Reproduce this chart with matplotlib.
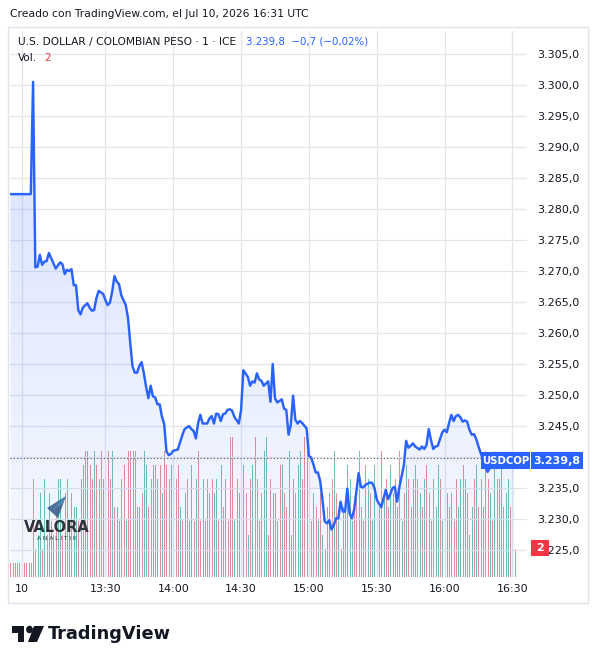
import matplotlib
matplotlib.use("Agg")
import matplotlib.pyplot as plt
import numpy as np
from matplotlib.patches import Rectangle, Polygon, Circle

# ---------------- data ----------------
start_label = "12:48"          # minute index 0
price_idx = [0, 9, 10, 11, 12, 13, 14, 15, 16, 17, 18, 20, 22, 23, 24, 25, 26, 27, 28, 29,
             30, 31, 32, 34, 35, 36, 37, 38, 39, 41, 42, 43, 44, 45, 46, 47, 48, 49, 51, 52,
             53, 54, 55, 56, 57, 58, 59, 60, 61, 62, 63, 64, 65, 66, 67, 68, 69, 70, 71, 72,
             74, 76, 77, 79, 80, 81, 82, 83, 84, 85, 87, 88, 89, 90, 91, 92, 93, 94, 95, 96,
             97, 98, 99, 101, 102, 103, 105, 106, 107, 108, 109, 110, 111, 112, 114, 115, 116, 117, 118, 120,
             121, 122, 123, 124, 125, 126, 127, 128, 129, 131, 132, 133, 134, 135, 136, 137, 138, 139, 140, 141,
             142, 143, 144, 145, 146, 147, 148, 149, 150, 151, 152, 153, 154, 155, 156, 157, 159, 160, 161, 162,
             164, 166, 167, 168, 169, 170, 171, 172, 174, 175, 176, 177, 178, 179, 181, 182, 183, 184, 185, 186,
             187, 188, 189, 190, 191, 192, 193, 194, 195, 196, 197, 198, 199, 200, 201, 202, 203, 204, 205, 206,
             207, 208, 209, 211, 213, 215, 217, 219, 221, 223]
price_val = [3282.4, 3282.4, 3300.5, 3270.6, 3270.7, 3272.6, 3271.0, 3271.5, 3271.6, 3272.9, 3272.1, 3270.4, 3271.4, 3271.1, 3269.5, 3270.2, 3270.0, 3270.3, 3267.7, 3267.7,
             3263.7, 3263.0, 3264.1, 3264.8, 3264.1, 3263.6, 3263.7, 3265.6, 3266.8, 3266.3, 3265.3, 3264.5, 3264.9, 3266.7, 3269.2, 3268.3, 3267.9, 3266.1, 3264.5, 3262.4,
             3258.3, 3254.6, 3253.6, 3253.6, 3254.7, 3255.3, 3253.5, 3251.3, 3249.5, 3251.5, 3249.8, 3249.6, 3248.5, 3248.5, 3246.5, 3245.3, 3240.9, 3240.3, 3240.5, 3241.0,
             3241.2, 3243.5, 3244.5, 3245.0, 3244.5, 3244.2, 3243.0, 3245.5, 3246.8, 3245.4, 3245.4, 3246.2, 3246.6, 3245.4, 3247.0, 3246.9, 3245.8, 3246.9, 3247.0, 3247.6,
             3247.7, 3247.5, 3246.5, 3245.4, 3247.6, 3254.0, 3252.9, 3251.5, 3252.2, 3252.0, 3253.5, 3252.5, 3252.3, 3251.5, 3252.2, 3248.9, 3255.0, 3249.5, 3248.8, 3249.3,
             3247.8, 3247.6, 3243.6, 3245.2, 3249.9, 3246.0, 3245.4, 3245.8, 3245.5, 3244.6, 3240.2, 3239.9, 3238.8, 3237.5, 3237.5, 3236.1, 3233.1, 3229.6, 3229.3, 3229.8,
             3228.3, 3229.0, 3230.1, 3230.1, 3232.8, 3231.2, 3231.2, 3234.9, 3230.9, 3230.1, 3231.5, 3234.4, 3237.4, 3235.2, 3235.1, 3235.5, 3235.9, 3235.8, 3235.0, 3233.1,
             3231.9, 3234.7, 3233.2, 3234.0, 3235.0, 3235.2, 3232.8, 3235.1, 3238.7, 3242.6, 3241.5, 3241.8, 3242.2, 3241.7, 3241.2, 3241.7, 3241.3, 3241.9, 3244.5, 3242.7,
             3241.3, 3241.7, 3241.8, 3242.9, 3244.0, 3244.4, 3244.0, 3245.5, 3246.8, 3245.8, 3246.6, 3246.8, 3246.4, 3245.7, 3245.9, 3245.7, 3244.4, 3243.6, 3243.7, 3242.9,
             3241.7, 3240.6, 3239.5, 3237.6, 3238.8, 3238.2, 3239.4, 3238.9, 3239.6, 3239.8]

volume = [1, 1, 1, 1, 1, 1, 1, 1, 1, 1,
          7, 2, 3, 6, 2, 7, 3, 6, 4, 3,
          5, 7, 7, 3, 6, 7, 4, 6, 5, 5,
          4, 7, 8, 9, 9, 8, 7, 9, 8, 7,
          9, 7, 5, 9, 7, 9, 5, 5, 4, 7,
          8, 4, 9, 9, 9, 9, 5, 5, 6, 9,
          8, 5, 7, 8, 8, 7, 8, 6, 9, 8,
          7, 8, 8, 7, 8, 5, 4, 6, 7, 4,
          8, 4, 7, 9, 4, 7, 4, 7, 6, 7,
          6, 7, 4, 8, 5, 7, 4, 10, 10, 4,
          7, 6, 9, 8, 6, 3, 7, 8, 10, 7,
          4, 6, 9, 10, 3, 7, 6, 6, 4, 8,
          8, 6, 5, 9, 3, 7, 6, 8, 9, 7,
          10, 9, 5, 4, 6, 5, 4, 6, 3, 2,
          5, 6, 7, 9, 6, 4, 2, 5, 5, 8,
          7, 4, 5, 6, 9, 5, 4, 8, 7, 6,
          4, 8, 7, 5, 9, 6, 7, 5, 8, 6,
          7, 5, 9, 4, 6, 8, 7, 5, 7, 8,
          7, 6, 5, 7, 8, 6, 4, 7, 5, 8,
          7, 4, 7, 6, 5, 6, 4, 7, 5, 7,
          8, 7, 6, 3, 5, 7, 8, 5, 7, 5,
          9, 7, 6, 4, 9, 7, 7, 8, 5, 6,
          7, 5, 6, 2]
volume_dir = ("rrrrrrrrrr" "rrggrgrgrg" "rggrrrgrgg" "rgrrgrrgrr" "rgrrrgrggr"
              "rgrrrrggrg" "grrgrgrgrr" "rggrrgrgrg" "grgrrggrgr" "ggrgrgrrrg"
              "rgrgrgrgrr" "grggrrgrgr" "grrgrgrggr" "rrgrgrgrgg" "rgrgrgrgrg"
              "ggrrgrgrgr" "ggrgrgrrgg" "rgrgrgrrgg" "rgrgrrgrgg" "rgrgrgrrgg"
              "rgrrgrgrrg" "rrgrgrrgrg" "grrr")

tick_idx = [5, 42, 72, 102, 132, 162, 192, 222]
tick_lab = ["10", "13:30", "14:00", "14:30", "15:00", "15:30", "16:00", "16:30"]
price_ticks = list(range(3225, 3306, 5))
last_price = 3239.8
last_volume = 2

# ---------------- layout helpers ----------------
W, H = 598, 664
fig = plt.figure(figsize=(W / 100, H / 100), dpi=100)
fig.patch.set_facecolor("white")


def fx(px):
    return px / W


def fy(py):
    return 1 - py / H


def price_at(py):
    return 3305 - (py - 54) * 5 / 31.0


TXT = "#131722"
BLUE = "#2962ff"
RED = "#f23645"
GRID = "#e3e5eb"

PL, PR, PT, PB = 10, 527, 31, 577
ax = fig.add_axes([fx(PL), fy(PB), fx(PR) - fx(PL), fy(PT) - fy(PB)])
axv = ax.twinx()
ax.set_zorder(axv.get_zorder() + 1)
ax.patch.set_visible(False)

ppx = 2.261  # px per minute
xmin = -0.2
xmax = xmin + (PR - PL) / ppx
ybot, ytop = price_at(PB), price_at(PT)

# volume (1-px wide bars)
vk = np.arange(len(volume))
vcols = ["#ec8e93" if c == "r" else "#6fc2b3" for c in volume_dir]
axv.vlines(vk, 0, volume, colors=vcols, linewidth=0.72, antialiased=False)
axv.set_ylim(0, (PB - PT) / 14.0)
axv.set_xlim(xmin, xmax)
axv.set_axis_off()

# price line + gradient fill
kx = np.array(price_idx, dtype=float)
pv = np.array(price_val)
verts = [(kx[0], ybot)] + list(zip(kx, pv)) + [(kx[-1], ybot)]
poly = Polygon(verts, closed=True, facecolor="none", edgecolor="none")
ax.add_patch(poly)
n = 256
g = np.linspace(0, 1, n)
rgba = np.zeros((n, 1, 4))
rgba[..., 0] = 41 / 255
rgba[..., 1] = 98 / 255
rgba[..., 2] = 1.0
rgba[:, 0, 3] = 0.04 + (0.19 - 0.04) * g
im = ax.imshow(rgba, extent=[xmin, xmax, ybot, pv.max()], origin="lower",
               aspect="auto", zorder=1, interpolation="bilinear")
im.set_clip_path(poly)
ax.plot(kx, pv, color=BLUE, lw=1.75, zorder=3, solid_joinstyle="round")
ax.axhline(last_price, color="#50535e", lw=0.8, ls=(0, (1, 2)), zorder=2)

ax.set_xlim(xmin, xmax)
ax.set_ylim(ybot, ytop)
ax.set_xticks(tick_idx)
ax.set_xticklabels(tick_lab)
ax.set_yticks(price_ticks)
# the 3.240,0 label is hidden behind the last-price marker in the reference
ax.set_yticklabels(["" if p == 3240 else f"{p // 1000}.{p % 1000:03d},0" for p in price_ticks])
ax.yaxis.tick_right()
ax.tick_params(axis="y", length=0, pad=7.2, labelsize=8, labelcolor=TXT)
ax.tick_params(axis="x", length=0, pad=5.2, labelsize=8, labelcolor=TXT)
ax.grid(True, color=GRID, lw=0.9, zorder=0)
ax.set_axisbelow(True)
for s in ax.spines.values():
    s.set_visible(False)

# frame
fig.patches.append(Rectangle((fx(8), fy(603)), fx(588) - fx(8), fy(27) - fy(603),
                             transform=fig.transFigure, fill=False, edgecolor="#e0e3eb", lw=1.0))

# header texts
fig.text(fx(10), fy(14), "Creado con TradingView.com, el Jul 10, 2026 16:31 UTC",
         fontsize=7.75, color=TXT, va="center", ha="left")
fig.text(fx(18), fy(42), "U.S. DOLLAR / COLOMBIAN PESO · 1 · ICE",
         fontsize=7.7, color=TXT, va="center", ha="left")
fig.text(fx(246), fy(42), "3.239,8  −0,7 (−0,02%)",
         fontsize=7.4, color=BLUE, va="center", ha="left")
fig.text(fx(18), fy(58), "Vol.", fontsize=7.6, color=TXT, va="center", ha="left")
fig.text(fx(44), fy(58), str(last_volume), fontsize=7.6, color=RED, va="center", ha="left")


def box(x0, y0, x1, y1, color):
    fig.patches.append(Rectangle((fx(x0), fy(y1)), fx(x1) - fx(x0), fy(y0) - fy(y1),
                                 transform=fig.transFigure, facecolor=color,
                                 edgecolor="none", zorder=5))


# last price labels
box(481, 452, 530, 469, BLUE)
fig.text(fx(505.5), fy(460.5), "USDCOP", fontsize=7.3, color="white", fontweight="bold",
         ha="center", va="center", zorder=6)
box(531, 452, 583, 469, BLUE)
fig.text(fx(557), fy(460.5), "3.239,8", fontsize=8, color="white", fontweight="bold",
         ha="center", va="center", zorder=6)
# last volume label
box(531, 540, 549, 556, RED)
fig.text(fx(540), fy(548), str(last_volume), fontsize=8, color="white", fontweight="bold",
         ha="center", va="center", zorder=6)

# Valora watermark
fig.patches.append(Polygon([(fx(47), fy(508)), (fx(66), fy(496)), (fx(58), fy(518))],
                           closed=True, transform=fig.transFigure,
                           facecolor="#3d5f8c", edgecolor="none", alpha=0.9))
fig.patches.append(Polygon([(fx(52), fy(510)), (fx(66), fy(496)), (fx(62), fy(504))],
                           closed=True, transform=fig.transFigure,
                           facecolor="#5b8ac0", edgecolor="none", alpha=0.9))
fig.text(fx(57), fy(527), "VALORA", fontsize=10.5, color="#2e323c", fontweight="bold",
         ha="center", va="center")
fig.text(fx(57), fy(539), "A N A L I T I K", fontsize=4.2, color="#2e323c",
         ha="center", va="center")

# TradingView logo
lc = "#131722"
fig.patches.append(Rectangle((fx(12), fy(633)), fx(24) - fx(12), fy(626) - fy(633),
                             transform=fig.transFigure, facecolor=lc, edgecolor="none"))
fig.patches.append(Rectangle((fx(18), fy(642)), fx(24) - fx(18), fy(626) - fy(642),
                             transform=fig.transFigure, facecolor=lc, edgecolor="none"))
fig.patches.append(Circle((fx(29.5), fy(629.5)), 3.4 / W, transform=fig.transFigure,
                          facecolor=lc, edgecolor="none"))
fig.patches.append(Polygon([(fx(34), fy(626)), (fx(44), fy(626)), (fx(37), fy(642)),
                            (fx(28), fy(642))], closed=True, transform=fig.transFigure,
                           facecolor=lc, edgecolor="none"))
fig.text(fx(48), fy(634), "TradingView", fontsize=12.8, color=lc, fontweight="bold",
         ha="left", va="center")

fig.savefig("out.png", dpi=100, facecolor="white")
